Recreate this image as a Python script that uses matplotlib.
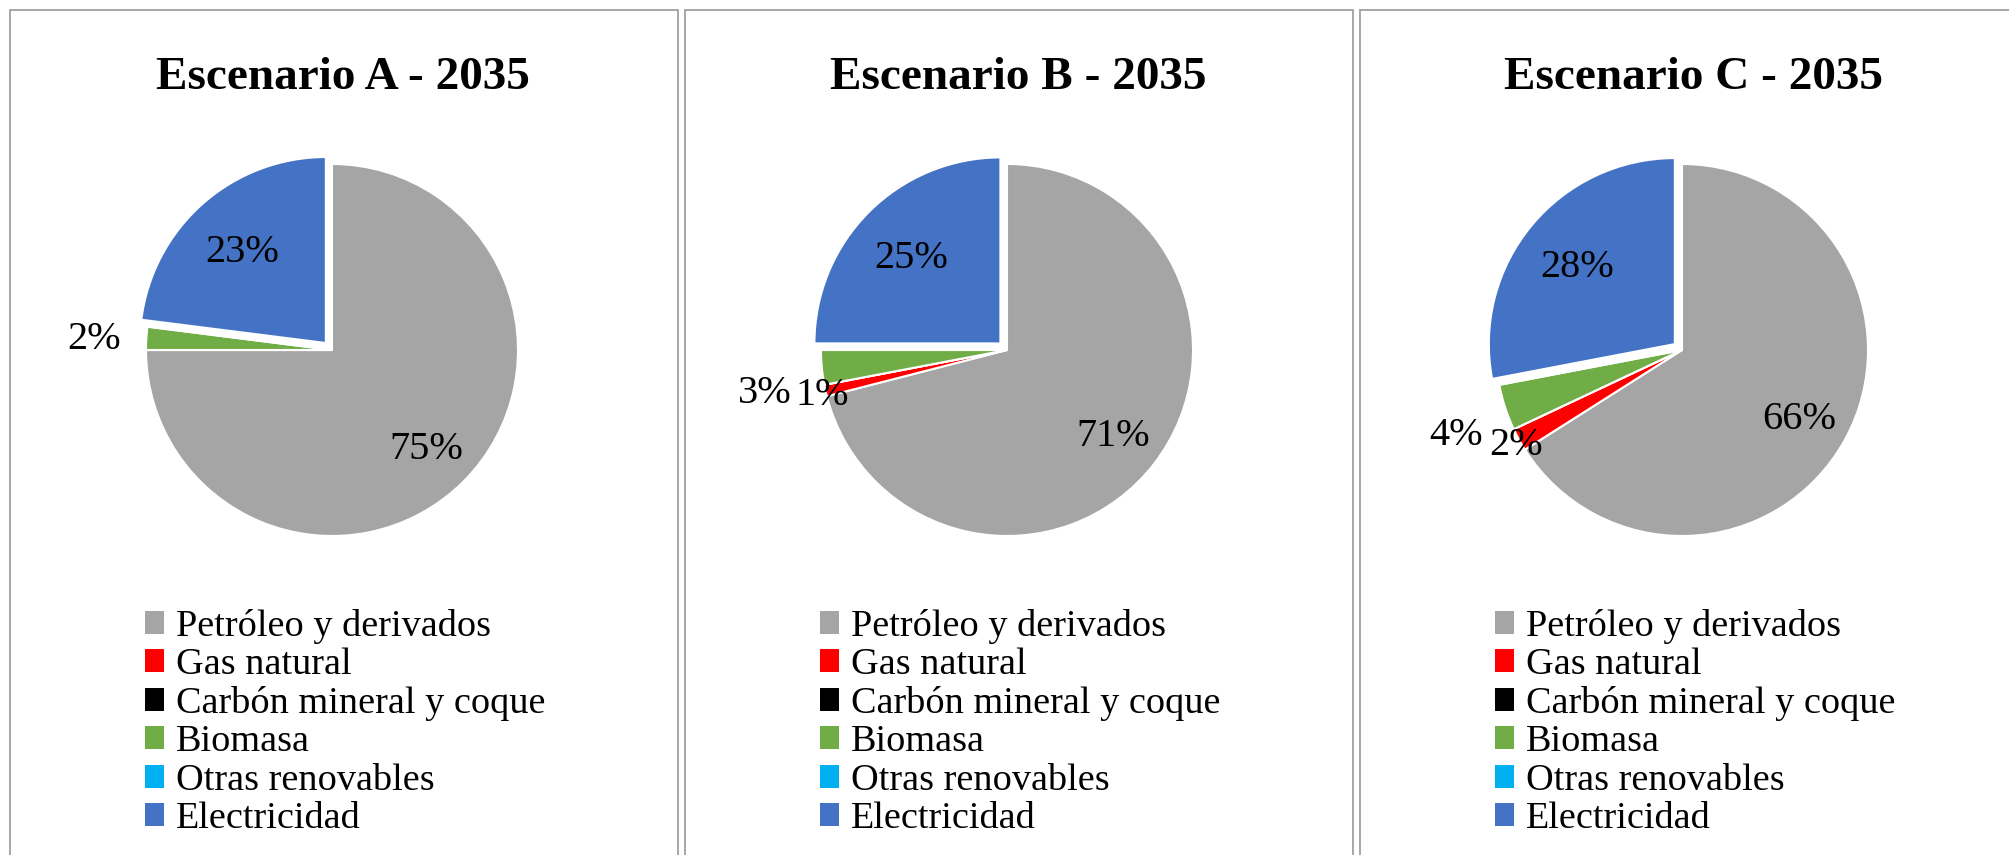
import numpy as np
import matplotlib
matplotlib.use('Agg')
import matplotlib.pyplot as plt
import matplotlib.patches as mpatches

plt.rcParams['font.family'] = ['Liberation Serif', 'DejaVu Serif']

# datos
escenarios = ['Escenario A - 2035', 'Escenario B - 2035', 'Escenario C - 2035']
fuentes = ['Petróleo y derivados', 'Gas natural', 'Carbón mineral y coque',
           'Biomasa', 'Otras renovables', 'Electricidad']
colores = ['#A5A5A5', '#FF0000', '#000000', '#70AD47', '#00B0F0', '#4472C4']
esc_a = [75, 0, 0, 2, 0, 23]
esc_b = [71, 1, 0, 3, 0, 25]
esc_c = [66, 2, 0, 4, 0, 28]
valores = [esc_a, esc_b, esc_c]

# distancia de la etiqueta al centro (en radios) por fuente
dist_etiqueta = [0.72, 1.02, 1.0, 1.28, 1.0, 0.68]
explode = [0, 0, 0, 0, 0, 0.05]
# ajuste manual de etiquetas que se solapan (panel, fuente) -> (dx, dy)
ajuste = {(1, 3): (-0.03, -0.09), (2, 3): (0.0, -0.04)}

W, H = 2009, 855
fig = plt.figure(figsize=(W / 100, H / 100), dpi=100)

panel_x = [10, 685, 1360]
panel_w = 668
R = 186
cy = 350
lim = 1.12

for i in range(3):
  x0 = panel_x[i]

  # marco del panel
  fig.add_artist(mpatches.Rectangle((x0 / W, -0.05), panel_w / W, (H - 10) / H + 0.05,
                                    transform=fig.transFigure, fill=False,
                                    edgecolor='#A0A0A0', linewidth=1.3))

  # título
  fig.text((x0 + 333) / W, 1 - 89 / H, escenarios[i], ha='center', va='baseline',
           fontsize=34, fontweight='bold')

  cx = x0 + 322
  half = lim * R
  ax = fig.add_axes([(cx - half) / W, (H - cy - half) / H, 2 * half / W, 2 * half / H])
  wedges, _ = ax.pie(valores[i], colors=colores, startangle=90, counterclock=False,
                     explode=explode, radius=1,
                     wedgeprops=dict(edgecolor='white', linewidth=1.5))
  ax.set_xlim(-lim, lim)
  ax.set_ylim(-lim, lim)
  ax.set_aspect('equal')
  ax.axis('off')

  for j, (w, v, d) in enumerate(zip(wedges, valores[i], dist_etiqueta)):
    if v == 0:
      continue
    th = np.deg2rad((w.theta1 + w.theta2) / 2)
    px, py = w.center
    dx, dy = ajuste.get((i, j), (0, 0))
    ax.text(px + d * np.cos(th) + dx, py + d * np.sin(th) + dy, f'{v}%',
            ha='center', va='center_baseline', fontsize=29)

  handles = [mpatches.Patch(facecolor=c, edgecolor='none') for c in colores]
  ax.legend(handles, fuentes, loc='upper left',
            bbox_to_anchor=((x0 + 135) / W, 1 - 609 / H),
            bbox_transform=fig.transFigure, frameon=False, fontsize=27.5,
            handlelength=0.5, handleheight=0.55, handletextpad=0.3,
            labelspacing=0.1, borderpad=0, borderaxespad=0)

plt.savefig('out.png', dpi=100)
